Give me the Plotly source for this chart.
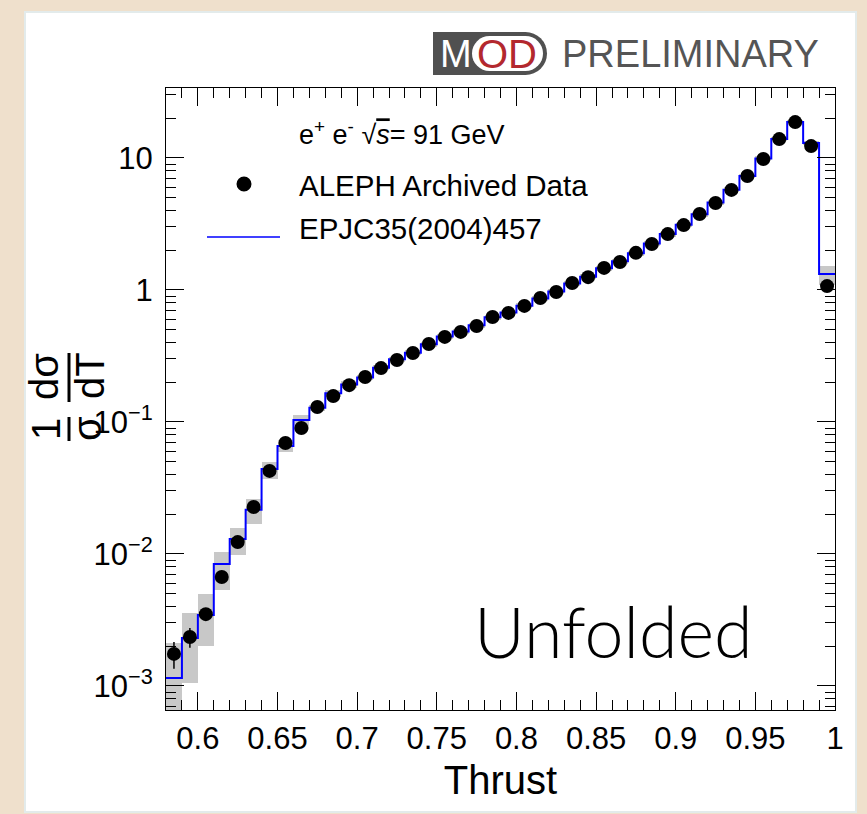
import plotly.graph_objects as go

# ---------------- data ----------------
bin_lo = [0.58, 0.59, 0.60, 0.61, 0.62, 0.63, 0.64, 0.65, 0.66, 0.67, 0.68, 0.69, 0.70, 0.71,
          0.72, 0.73, 0.74, 0.75, 0.76, 0.77, 0.78, 0.79, 0.80, 0.81, 0.82, 0.83, 0.84, 0.85,
          0.86, 0.87, 0.88, 0.89, 0.90, 0.91, 0.92, 0.93, 0.94, 0.95, 0.96, 0.97, 0.98, 0.99]
bin_width = 0.01
x_max = 1.0

data_vals = [1.75e-3, 2.35e-3, 3.5e-3, 6.7e-3, 0.0123, 0.0227, 0.0426, 0.0693, 0.090, 0.130,
             0.157, 0.190, 0.219, 0.256, 0.295, 0.333, 0.390, 0.441, 0.481, 0.533, 0.624,
             0.670, 0.757, 0.869, 0.966, 1.13, 1.25, 1.47, 1.63, 1.91, 2.23, 2.65, 3.10,
             3.76, 4.56, 5.73, 7.31, 9.83, 13.9, 18.7, 12.3, 1.07]
data_err = [0.4e-3, 0.4e-3, 0, 0, 0, 0, 0, 0, 0, 0, 0, 0, 0, 0, 0, 0, 0, 0, 0, 0, 0,
            0, 0, 0, 0, 0, 0, 0, 0, 0, 0, 0, 0, 0, 0, 0, 0, 0, 0, 0, 0, 0]

mc_vals = [1.15e-3, 2.31e-3, 3.45e-3, 8.4e-3, 0.0130, 0.0216, 0.0441, 0.0658, 0.1035, 0.128,
           0.165, 0.192, 0.217, 0.258, 0.298, 0.335, 0.388, 0.445, 0.485, 0.540, 0.620,
           0.675, 0.760, 0.860, 0.975, 1.12, 1.26, 1.46, 1.65, 1.90, 2.25, 2.65, 3.12,
           3.75, 4.60, 5.75, 7.30, 9.90, 13.9, 18.7, 13.0, 1.32]

box_lo = [4.5e-4, 1.05e-3, 2.01e-3, 5.34e-3, 9.8e-3, 0.0169, 0.037, 0.0593, 0.0869, 0.121,
          0.155, 0.181, 0.207, 0.247, 0.286, 0.322, 0.372, 0.427, 0.466, 0.518, 0.595,
          0.648, 0.730, 0.826, 0.936, 1.075, 1.21, 1.40, 1.58, 1.82, 2.16, 2.54, 3.00,
          3.60, 4.42, 5.52, 7.0, 9.5, 13.4, 18.0, 12.5, 1.09]
box_hi = [2.12e-3, 3.57e-3, 4.98e-3, 0.01035, 0.0157, 0.0261, 0.0498, 0.0731, 0.113, 0.135,
          0.176, 0.203, 0.227, 0.269, 0.310, 0.348, 0.404, 0.463, 0.504, 0.562, 0.645,
          0.702, 0.790, 0.894, 1.014, 1.165, 1.31, 1.52, 1.72, 1.98, 2.34, 2.76, 3.24,
          3.90, 4.78, 5.98, 7.6, 10.3, 14.4, 19.4, 13.5, 1.52]

x_tickvals = [0.6, 0.65, 0.7, 0.75, 0.8, 0.85, 0.9, 0.95, 1.0]
x_ticktext = ["0.6", "0.65", "0.7", "0.75", "0.8", "0.85", "0.9", "0.95", "1"]
y_tickvals = [1e-3, 1e-2, 1e-1, 1, 10]
y_ticktext = ["10<sup>\u22123</sup>", "10<sup>\u22122</sup>", "10<sup>\u22121</sup>", "1", "10"]
y_minor = [k * 10.0 ** e for e in range(-4, 2) for k in range(2, 10)]

# ---------------- derived ----------------
centers = [b + bin_width / 2 for b in bin_lo]
box_h = [h - l for l, h in zip(box_lo, box_hi)]
step_x = bin_lo + [x_max]
step_y = mc_vals + [mc_vals[-1]]

FONT = "Liberation Sans, Arial, Helvetica, sans-serif"

# plot area in pixels (for placing decorations)
L, R, T, B = 166, 835, 88, 710
def px(x):
    return (x - L) / (R - L)
def py(y):
    return (B - y) / (B - T)

fig = go.Figure()
fig.add_trace(go.Bar(x=centers, y=box_h, base=box_lo, width=bin_width,
                     marker=dict(color="#c8c8c8", line=dict(width=0)),
                     showlegend=False, hoverinfo="skip"))
fig.add_trace(go.Scatter(x=step_x, y=step_y, mode="lines", line_shape="hv",
                         line=dict(color="#0000ff", width=2), showlegend=False))
fig.add_trace(go.Scatter(x=centers, y=data_vals, mode="markers",
                         marker=dict(color="black", size=14),
                         error_y=dict(type="data", array=data_err, color="black",
                                      thickness=1.5, width=0),
                         showlegend=False))

shapes = []
annos = []

# white card
shapes.append(dict(type="rect", xref="paper", yref="paper", layer="below",
                   x0=px(25), x1=px(856), y0=py(12), y1=py(812),
                   fillcolor="white", line=dict(color="#e3ebeb", width=2)))

# legend glyphs
shapes.append(dict(type="circle", xref="paper", yref="paper",
                   x0=px(236.5), x1=px(251.5), y0=py(191.5), y1=py(176.5),
                   fillcolor="black", line=dict(width=0)))
shapes.append(dict(type="line", xref="paper", yref="paper",
                   x0=px(207), x1=px(280), y0=py(237), y1=py(237),
                   line=dict(color="#0000ff", width=1.5)))
annos.append(dict(xref="paper", yref="paper", x=px(297), y=py(133), xanchor="left",
                  yanchor="middle", showarrow=False,
                  text="e<sup>+</sup> e<sup>-</sup> \u221a<span style='text-decoration:overline'><i>s</i></span>= 91 GeV",
                  font=dict(family=FONT, size=27, color="black")))
annos.append(dict(xref="paper", yref="paper", x=px(297), y=py(185), xanchor="left",
                  yanchor="middle", showarrow=False, text="ALEPH Archived Data",
                  font=dict(family=FONT, size=29.5, color="black")))
annos.append(dict(xref="paper", yref="paper", x=px(297), y=py(229), xanchor="left",
                  yanchor="middle", showarrow=False, text="EPJC35(2004)457",
                  font=dict(family=FONT, size=29.5, color="black")))

# Unfolded label
annos.append(dict(xref="paper", yref="paper", x=px(613), y=py(631), xanchor="center",
                  yanchor="middle", showarrow=False, text="Unfolded",
                  font=dict(family="Lato, Liberation Sans, sans-serif", size=70,
                            color="black", weight=300)))

# y-axis title as a rotated fraction
for txt, cx, cy in [("d\u03c3", 44, 377), ("dT", 90, 376), ("1", 46, 429), ("\u03c3", 87, 429)]:
    annos.append(dict(xref="paper", yref="paper", x=px(cx), y=py(cy), xanchor="center",
                      yanchor="middle", showarrow=False, text=txt, textangle=-90,
                      font=dict(family=FONT, size=40, color="black")))
for y0, y1 in [(353, 402), (417, 441)]:
    shapes.append(dict(type="line", xref="paper", yref="paper",
                       x0=px(69), x1=px(69), y0=py(y0), y1=py(y1),
                       line=dict(color="black", width=3)))

# MOD PRELIMINARY logo
DARK = "#505050"
shapes.append(dict(type="rect", xref="paper", yref="paper", x0=px(433), x1=px(526),
                   y0=py(32), y1=py(75), fillcolor=DARK, line=dict(width=0)))
shapes.append(dict(type="circle", xref="paper", yref="paper", x0=px(504), x1=px(547),
                   y0=py(32), y1=py(75), fillcolor=DARK, line=dict(width=0)))
shapes.append(dict(type="rect", xref="paper", yref="paper", x0=px(489), x1=px(526),
                   y0=py(36), y1=py(71), fillcolor="white", line=dict(width=0)))
shapes.append(dict(type="circle", xref="paper", yref="paper", x0=px(472), x1=px(507),
                   y0=py(36), y1=py(71), fillcolor="white", line=dict(width=0)))
shapes.append(dict(type="circle", xref="paper", yref="paper", x0=px(508), x1=px(543),
                   y0=py(36), y1=py(71), fillcolor="white", line=dict(width=0)))
annos.append(dict(xref="paper", yref="paper", x=px(456), y=py(54), xanchor="center",
                  yanchor="middle", showarrow=False, text="M",
                  font=dict(family=FONT, size=38, color="white")))
annos.append(dict(xref="paper", yref="paper", x=px(507), y=py(54), xanchor="center",
                  yanchor="middle", showarrow=False, text="OD",
                  font=dict(family=FONT, size=40, color="#b3282e")))
annos.append(dict(xref="paper", yref="paper", x=px(560), y=py(54), xanchor="left",
                  yanchor="middle", showarrow=False, text="PRELIMINARY",
                  font=dict(family=FONT, size=38, color="#555555")))

fig.update_layout(
    width=867, height=814, autosize=False,
    margin=dict(l=L, r=867 - R, t=T, b=814 - B, pad=0),
    paper_bgcolor="#efe0cc", plot_bgcolor="white",
    bargap=0, showlegend=False,
    shapes=shapes, annotations=annos,
    xaxis=dict(range=[0.58, 1.0], tickmode="array", tickvals=x_tickvals, ticktext=x_ticktext,
               ticks="inside", ticklen=18, tickwidth=1, tickcolor="black",
               showline=True, linecolor="black", linewidth=1, mirror="ticks",
               showgrid=False, zeroline=False,
               minor=dict(ticks="inside", ticklen=10, tickwidth=1, tickcolor="black",
                          dtick=0.01, tick0=0.58, showgrid=False),
               tickfont=dict(family=FONT, size=31, color="black"),
               ticklabelstandoff=1,
               title=dict(text="Thrust", font=dict(family=FONT, size=40, color="black"),
                          standoff=10)),
    yaxis=dict(type="log", range=[-3.182, 1.530], tickmode="array", tickvals=y_tickvals,
               ticktext=y_ticktext,
               ticks="inside", ticklen=18, tickwidth=1, tickcolor="black",
               showline=True, linecolor="black", linewidth=1, mirror="ticks",
               showgrid=False, zeroline=False,
               minor=dict(ticks="inside", ticklen=10, tickwidth=1, tickcolor="black",
                          tickvals=y_minor, showgrid=False),
               tickfont=dict(family=FONT, size=31, color="black"),
               ticklabelstandoff=6),
)

fig.write_html("out.html")
